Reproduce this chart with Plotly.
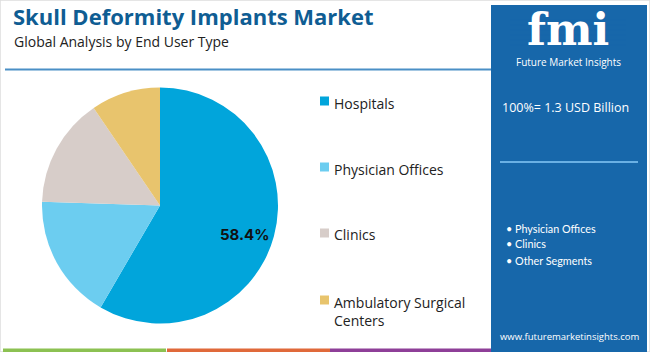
import math
import plotly.graph_objects as go

# ---- data ----
categories = ["Hospitals", "Physician Offices", "Clinics", "Ambulatory Surgical Centers"]
legend_labels = ["Hospitals", "Physician Offices", "Clinics", "Ambulatory Surgical<br>Centers"]
shares = [58.4, 17.1, 15.0, 9.5]
slice_text = ["58.4%", "", "", ""]
colors = ["#01A5DB", "#6CCDF0", "#D7CDC9", "#E8C46D"]
title = "Skull Deformity Implants Market"
subtitle = "Global Analysis by End User Type"
total_text = "100%= 1.3 USD Billion"
other_segments = ["Physician Offices", "Clinics", "Other Segments"]
website = "www.futuremarketinsights.com"

W, H = 650, 352
PANEL = "#1767AA"

fig = go.Figure()

cx, cy, r = 160, 205.5, 118
fig.add_trace(go.Pie(
    labels=categories, values=shares,
    textinfo="none",
    marker=dict(colors=colors, line=dict(width=0)),
    sort=False, direction="clockwise", rotation=0,
    showlegend=False, hoverinfo="label+percent",
    domain=dict(x=[(cx - r) / W, (cx + r) / W], y=[(H - cy - r) / H, (H - cy + r) / H]),
))

shapes = []
annotations = []

def px_x(x):
    return x / W

def px_y(y):
    return 1 - y / H

# slice labels placed along the slice's mid-angle
total = sum(shares)
start = 0.0
for v, t in zip(shares, slice_text):
    mid = (start + v / 2) / total * 360 + 4
    start += v
    if not t:
        continue
    rr = 0.76 * r
    lx = cx + rr * math.sin(math.radians(mid))
    ly = cy - rr * math.cos(math.radians(mid))
    annotations.append(dict(text=f"<b>{t}</b>", xref="paper", yref="paper", x=px_x(lx), y=px_y(ly),
                            xanchor="center", yanchor="middle", showarrow=False,
                            font=dict(family="Inter, Roboto, sans-serif", size=15, color="#111111")))

# outer faint border
shapes.append(dict(type="rect", xref="paper", yref="paper", x0=0, x1=1, y0=0, y1=1,
                   line=dict(color="#DDDDDD", width=1.5), fillcolor="rgba(0,0,0,0)", layer="below"))

# title underline
shapes.append(dict(type="line", xref="paper", yref="paper", x0=px_x(5), x1=px_x(492),
                   y0=px_y(69.5), y1=px_y(69.5), line=dict(color="#4A8FC6", width=2)))

# bottom colour strip
for x0, x1, c in [(3, 166, "#8CC152"), (167, 330, "#E0693A"), (330, 493, "#8E3F98")]:
    shapes.append(dict(type="rect", xref="paper", yref="paper", x0=px_x(x0), x1=px_x(x1),
                       y0=px_y(352), y1=px_y(348.5), line=dict(width=0), fillcolor=c))

# right panel
shapes.append(dict(type="rect", xref="paper", yref="paper", x0=px_x(491), x1=px_x(647),
                   y0=px_y(352), y1=px_y(5), line=dict(width=0), fillcolor=PANEL))
# panel separator line
shapes.append(dict(type="line", xref="paper", yref="paper", x0=px_x(500), x1=px_x(638),
                   y0=px_y(162), y1=px_y(162), line=dict(color="#6AB0E4", width=2)))

# title & subtitle
annotations.append(dict(text=f"<b>{title}</b>", xref="paper", yref="paper", x=px_x(11), y=px_y(16),
                        xanchor="left", yanchor="middle", showarrow=False,
                        font=dict(family="Open Sans, sans-serif", size=22, color="#0F5D93")))
annotations.append(dict(text=subtitle, xref="paper", yref="paper", x=px_x(12), y=px_y(41.5),
                        xanchor="left", yanchor="middle", showarrow=False,
                        font=dict(family="Open Sans, sans-serif", size=14, color="#222222")))

# legend
leg_y = [101, 167, 233, 300]
for lab, c, y in zip(legend_labels, colors, leg_y):
    shapes.append(dict(type="rect", xref="paper", yref="paper", x0=px_x(320), x1=px_x(329),
                       y0=px_y(y + 4.5), y1=px_y(y - 4.5), line=dict(width=0), fillcolor=c))
    annotations.append(dict(text=lab, xref="paper", yref="paper", x=px_x(332), y=px_y(y - 9.5),
                            xanchor="left", yanchor="top", align="left", showarrow=False,
                            font=dict(family="Open Sans, sans-serif", size=14, color="#222222")))

# logo
annotations.append(dict(text="<b>fmi</b>", xref="paper", yref="paper", x=px_x(568), y=px_y(30),
                        xanchor="center", yanchor="middle", showarrow=False,
                        font=dict(family="DejaVu Serif, serif", size=44, color="white")))
for yy in [20, 25, 30, 35, 40, 45]:
    shapes.append(dict(type="line", xref="paper", yref="paper", x0=px_x(510), x1=px_x(626),
                       y0=px_y(yy), y1=px_y(yy), line=dict(color=PANEL, width=1.2)))
annotations.append(dict(text="Future Market Insights", xref="paper", yref="paper", x=px_x(568), y=px_y(62),
                        xanchor="center", yanchor="middle", showarrow=False,
                        font=dict(family="Open Sans, sans-serif", size=10, color="white")))

# panel texts
annotations.append(dict(text=total_text, xref="paper", yref="paper", x=px_x(500), y=px_y(107),
                        xanchor="left", yanchor="middle", showarrow=False,
                        font=dict(family="Open Sans, sans-serif", size=12.5, color="white")))
for s, y in zip(other_segments, [229, 243, 260]):
    annotations.append(dict(text="• " + s, xref="paper", yref="paper", x=px_x(504), y=px_y(y),
                            xanchor="left", yanchor="middle", showarrow=False,
                            font=dict(family="Lato, Open Sans, sans-serif", size=10.8, color="white")))
annotations.append(dict(text=website, xref="paper", yref="paper", x=px_x(570), y=px_y(336),
                        xanchor="center", yanchor="middle", showarrow=False,
                        font=dict(family="Open Sans, sans-serif", size=9.5, color="white")))

fig.update_layout(
    width=W, height=H, margin=dict(l=0, r=0, t=0, b=0),
    paper_bgcolor="white", plot_bgcolor="white",
    shapes=shapes, annotations=annotations,
)

fig.write_html("out.html")
